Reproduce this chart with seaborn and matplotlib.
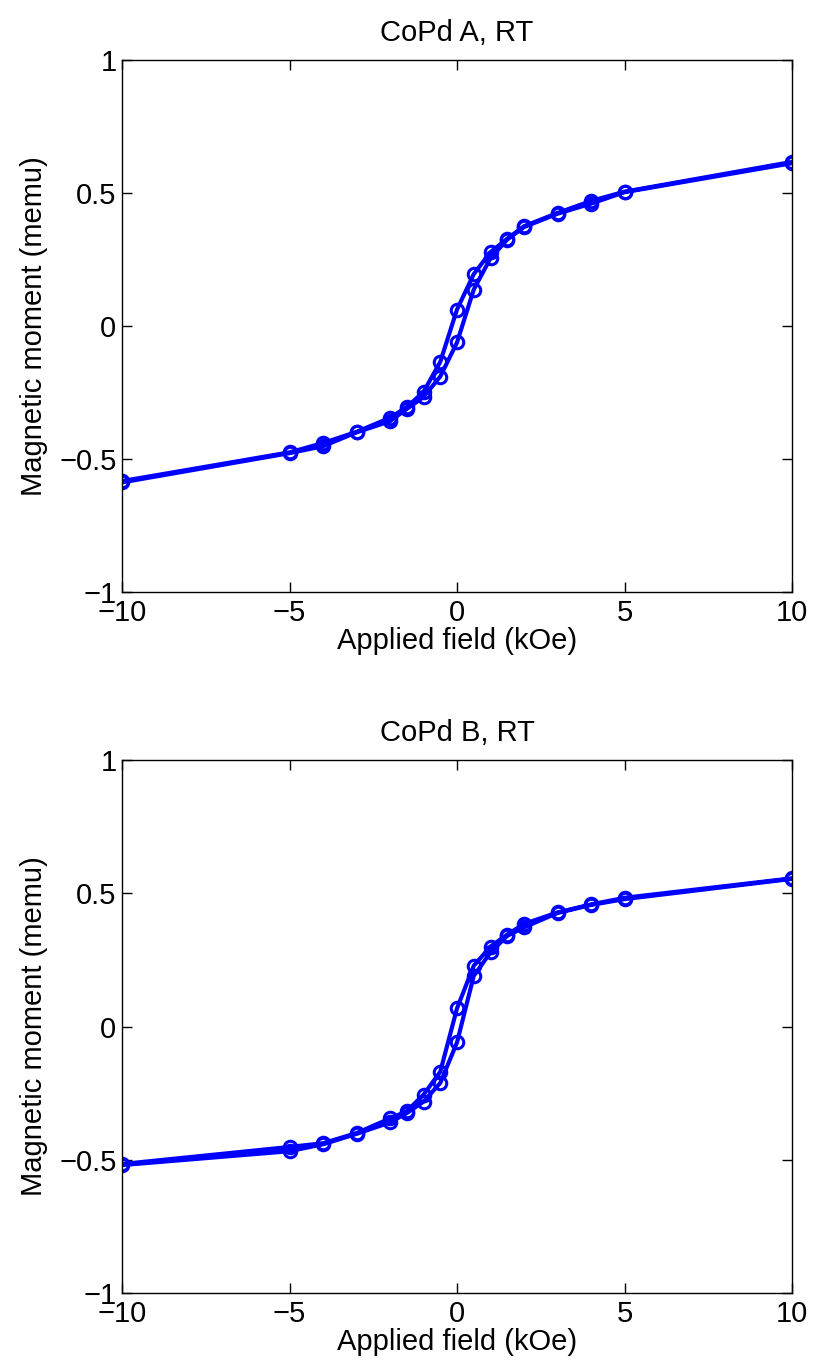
import numpy as np
import pandas as pd
import matplotlib
matplotlib.use("Agg")
import matplotlib.pyplot as plt
import seaborn as sns

# Field sweep (kOe): descending branch then ascending branch
field_down = [10, 5, 4, 3, 2, 1.5, 1, 0.5, 0, -0.5, -1, -1.5, -2, -3, -4, -5, -10]
field_up = [-10, -5, -4, -3, -2, -1.5, -1, -0.5, 0, 0.5, 1, 1.5, 2, 3, 4, 5, 10]

# Sample A moments (memu)
a_down = [0.617, 0.505, 0.470, 0.425, 0.375, 0.328, 0.278, 0.195, 0.062, -0.135, -0.248, -0.305, -0.345, -0.398, -0.440, -0.475, -0.583]
a_up = [-0.588, -0.478, -0.452, -0.400, -0.358, -0.312, -0.267, -0.190, -0.062, 0.137, 0.255, 0.325, 0.372, 0.422, 0.460, 0.503, 0.612]

# Sample B moments (memu)
b_down = [0.556, 0.483, 0.458, 0.428, 0.385, 0.345, 0.300, 0.228, 0.068, -0.170, -0.256, -0.318, -0.345, -0.400, -0.438, -0.452, -0.516]
b_up = [-0.520, -0.468, -0.442, -0.403, -0.360, -0.325, -0.282, -0.212, -0.060, 0.190, 0.278, 0.340, 0.372, 0.426, 0.456, 0.478, 0.554]

titles = ["CoPd A, RT", "CoPd B, RT"]
xticks = [-10, -5, 0, 5, 10]
yticks = [-1, -0.5, 0, 0.5, 1]

sns.set_theme(style="white")
plt.rcParams['font.family'] = ['Liberation Sans', 'DejaVu Sans']

fig = plt.figure(figsize=(8.13, 13.61), dpi=100)
W, H = 813, 1361
rects = [(122, 60, 792, 592), (122, 760, 792, 1293)]
datasets = [(a_down, a_up), (b_down, b_up)]
FS = 21

for (l, t, r, b), (down, up), title in zip(rects, datasets, titles):
    ax = fig.add_axes([l / W, 1 - b / H, (r - l) / W, (b - t) / H])
    df = pd.DataFrame({
        "field": field_down + field_up,
        "moment": down + up,
    })
    sns.lineplot(data=df, x="field", y="moment", sort=False, estimator=None,
                 ax=ax, color=(0, 0, 1), linewidth=3, marker="o",
                 markersize=9, markerfacecolor="none", markeredgecolor=(0, 0, 1),
                 markeredgewidth=2.2)
    ax.set_xlim(-10, 10)
    ax.set_ylim(-1, 1)
    ax.set_xticks(xticks)
    ax.set_yticks(yticks)
    ax.set_xticklabels([f"{v:g}".replace("-", "\u2212") for v in xticks])
    ax.set_yticklabels([f"{v:g}".replace("-", "\u2212") for v in yticks])
    ax.tick_params(direction="in", length=7, width=1, labelsize=FS, colors="black",
                   top=True, right=True, bottom=True, left=True, pad=4)
    ax.tick_params(axis="x", pad=5)
    for s in ax.spines.values():
        s.set_color("black")
        s.set_linewidth(1)
    ax.set_xlabel("Applied field (kOe)", fontsize=FS, labelpad=0, color="black")
    ax.set_ylabel("Magnetic moment (memu)", fontsize=FS, labelpad=8, color="black")
    ax.set_title(title, fontsize=FS, pad=14, color="black")
    ax.grid(False)

fig.savefig("out.png", dpi=100, facecolor="white")
